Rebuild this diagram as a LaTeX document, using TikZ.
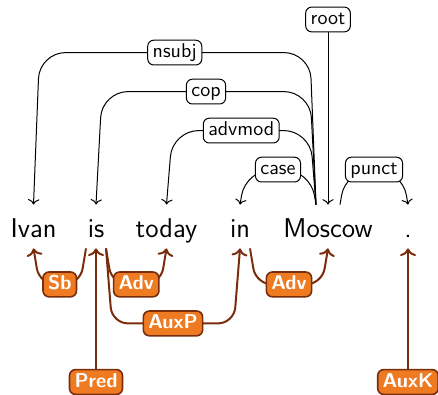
\documentclass[tikz,border=0pt]{standalone}
\usetikzlibrary{arrows.meta, calc}

\definecolor{depOrange}{RGB}{238,123,34}
\definecolor{depBrown}{RGB}{122,45,12}

\begin{document}
\begin{tikzpicture}[x=0.5pt, y=-0.5pt, line join=round,
    word/.style={anchor=base, inner xsep=0pt, inner ysep=5.5pt, text height=10.5pt,
      text depth=0pt, font=\fontsize{13.6}{16}\selectfont\sffamily},
    deplabel/.style={draw, rounded corners=3pt, fill=white, font=\sffamily, line width=0.5pt,
      inner xsep=2.5pt, inner ysep=1.6pt, text height=7.2pt, text depth=2pt},
    tectolabel/.style={deplabel, draw=depBrown, fill=depOrange, text=white,
      line width=0.8pt, font=\sffamily\bfseries},
    depedge/.style={rounded corners=13pt, line width=0.5pt, -{To}},
    tectoedge/.style={depedge, rounded corners=8pt, draw=depBrown, line width=1pt}]
  \useasboundingbox (0,0) rectangle (438,395);

  % the sentence
  \node[word] (Ivan) at (33.5,237) {Ivan};
  \node[word] (is) at (96,237) {is};
  \node[word] (today) at (166.5,237) {today};
  \node[word] (in) at (240,237) {in};
  \node[word] (Moscow) at (328,237) {Moscow};
  \node[word] (stop) at (408,237) {.};

  % dependencies above
  \node[deplabel] (root) at (328,19.5) {root};
  \draw[-{To}, line width=0.5pt] (root) -- (Moscow.north);
  \draw[depedge] ([xshift=-6pt]Moscow.north) -- ++(-3pt,76pt)
    -- ($(Ivan.north)+(3pt,76pt)$) node[deplabel, midway] (nsubj) {nsubj} -- (Ivan.north);
  \draw[depedge] ([xshift=-6pt]Moscow.north) -- ++(-3pt,56.5pt)
    -- ($(is.north)+(3pt,56.5pt)$) node[deplabel, midway] (cop) {cop} -- (is.north);
  \draw[depedge] ([xshift=-6pt]Moscow.north) -- ++(-3pt,37pt)
    -- ($(today.north)+(3pt,37pt)$) node[deplabel, midway] (advmod) {advmod} -- (today.north);
  \draw[depedge] ([xshift=-6pt]Moscow.north) -- ++(-3pt,17.5pt)
    -- ($(in.north)+(3pt,17.5pt)$) node[deplabel, midway] (case) {case} -- (in.north);
  \draw[depedge] ([xshift=6pt]Moscow.north) -- ++(3pt,17.5pt)
    -- ($(stop.north)+(-3pt,17.5pt)$) node[deplabel, midway] (punct) {punct} -- (stop.north);

  % dependencies below
  \node[tectolabel] (Pred) at (96,382) {Pred};
  \node[tectolabel] (AuxK) at (408,382) {AuxK};
  \draw[tectoedge] (Pred) -- (is.south);
  \draw[tectoedge] (AuxK) -- (stop.south);
  \draw[tectoedge] ([xshift=-5pt]is.south) -- ++(-3pt,-18pt)
    -- ($(Ivan.south)+(3pt,-18pt)$) node[tectolabel, midway] (Sb) {Sb} -- (Ivan.south);
  \draw[tectoedge] ([xshift=5pt]is.south) -- ++(3pt,-18pt)
    -- ($(today.south)+(-3pt,-18pt)$) node[tectolabel, midway] (Adv1) {Adv} -- (today.south);
  \draw[tectoedge] ([xshift=5pt]is.south) -- ++(3pt,-37.5pt)
    -- ($(in.south)+(-3pt,-37.5pt)$) node[tectolabel, midway] (AuxP) {AuxP} -- (in.south);
  \draw[tectoedge] ([xshift=5pt]in.south) -- ++(3pt,-18pt)
    -- ($(Moscow.south)+(-3pt,-18pt)$) node[tectolabel, midway] (Adv2) {Adv} -- (Moscow.south);
\end{tikzpicture}
\end{document}
